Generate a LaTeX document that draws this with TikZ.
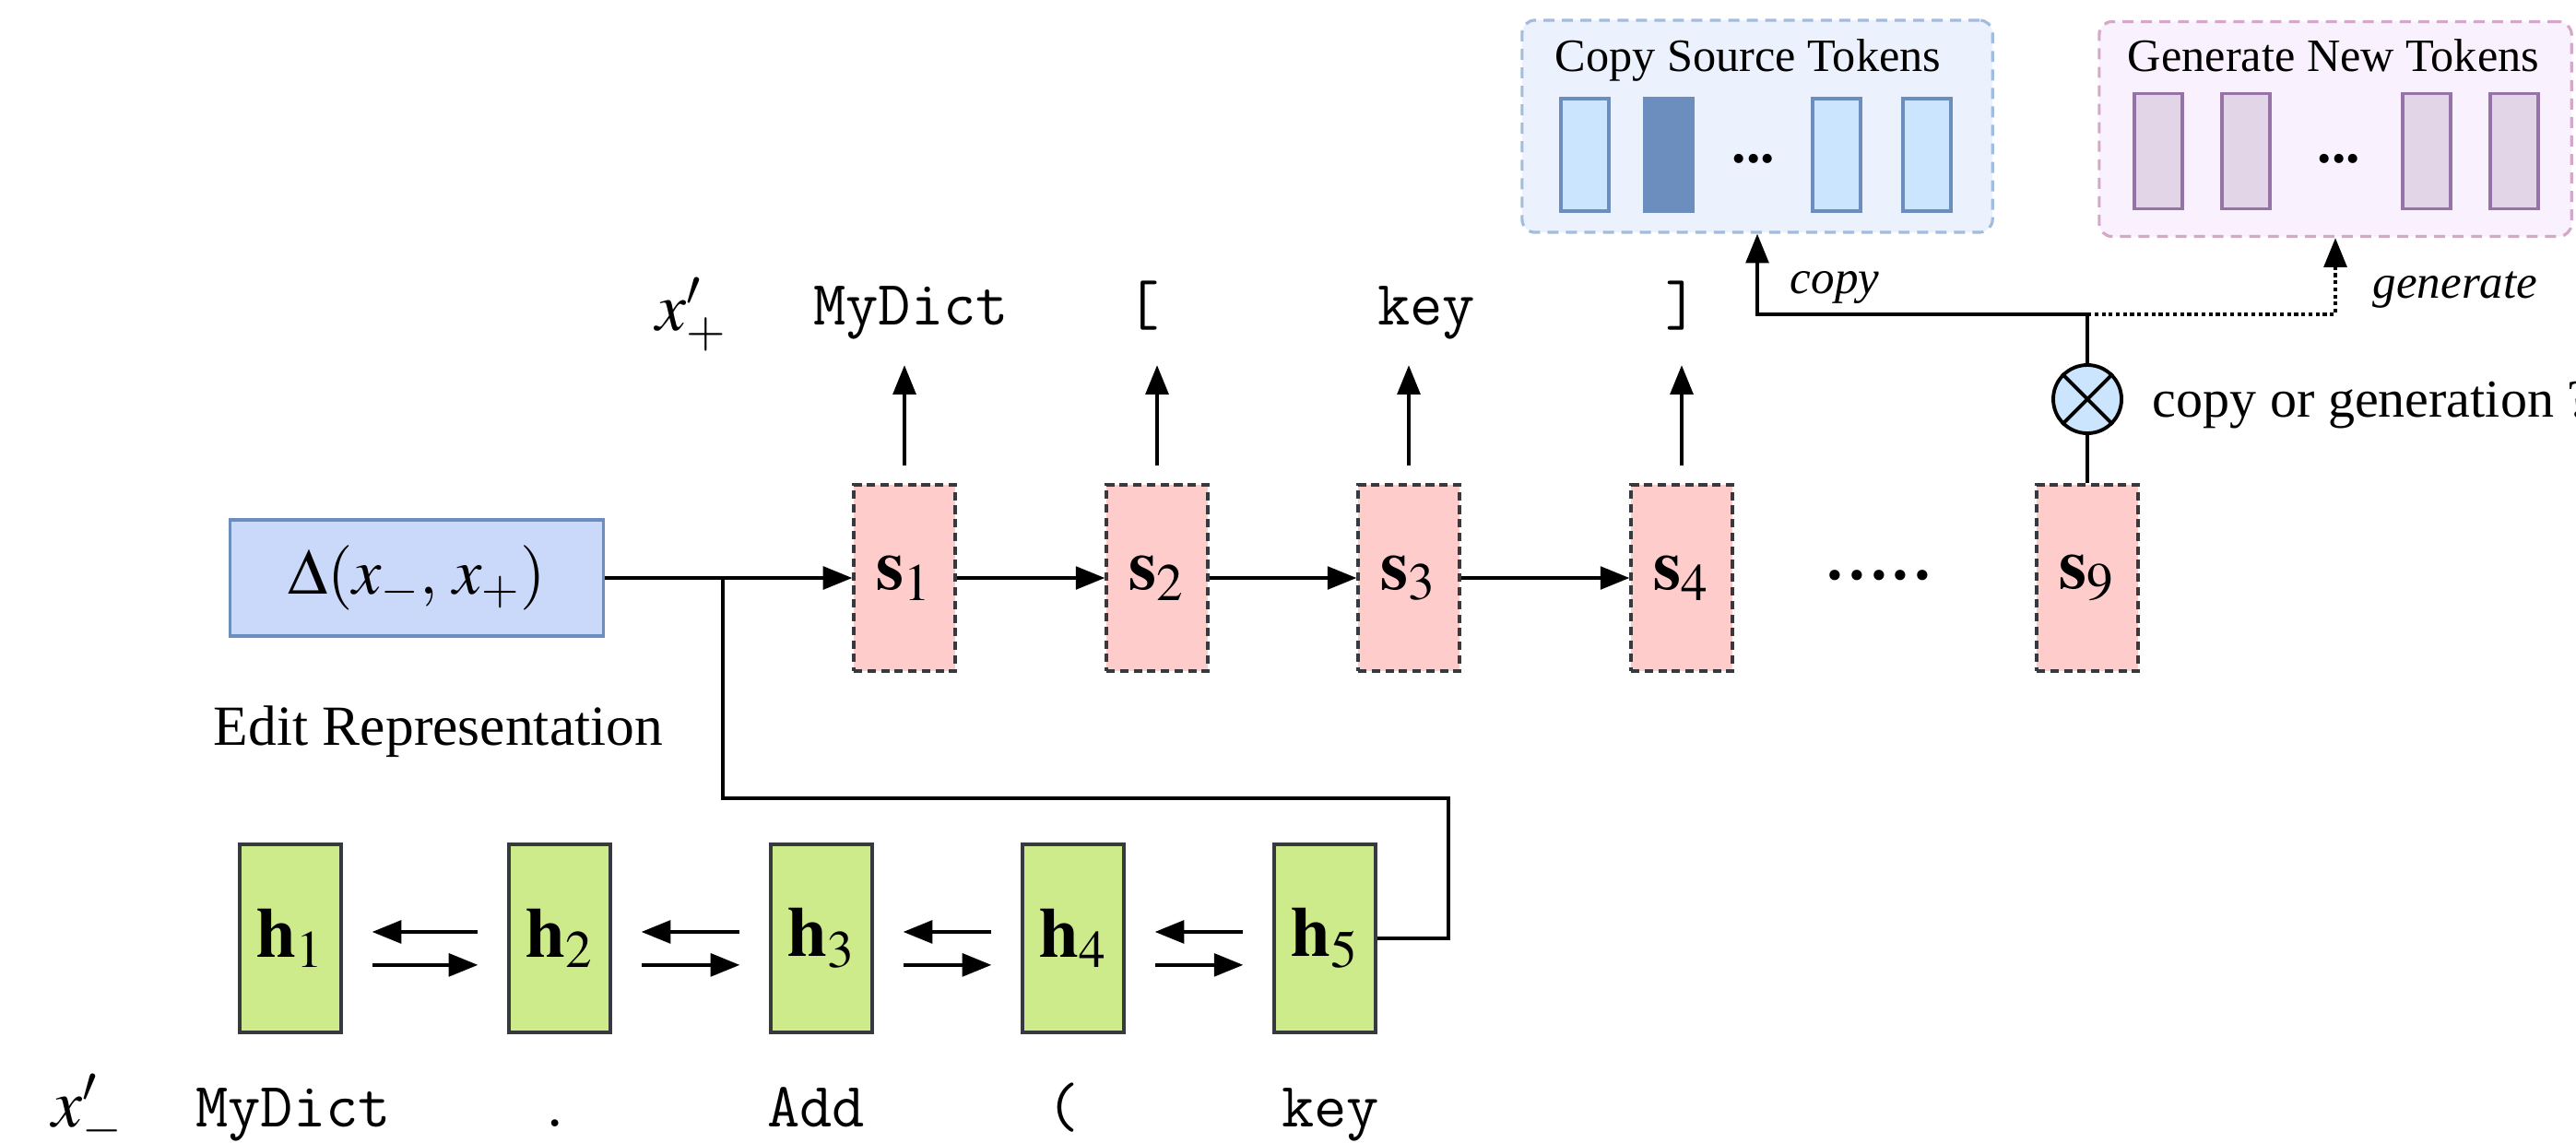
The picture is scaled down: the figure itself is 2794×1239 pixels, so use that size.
\documentclass[tikz,border=0pt]{standalone}
\usepackage{mathptmx}
\usepackage{fontspec}
\setmainfont{Liberation Serif}
\usetikzlibrary{arrows.meta,positioning}
\definecolor{editfill}{HTML}{CAD8FA}
\definecolor{editline}{HTML}{6C8EBF}
\definecolor{decfill}{HTML}{FFCCCC}
\definecolor{boxline}{HTML}{36393D}
\definecolor{encfill}{HTML}{CDEB8B}
\definecolor{mixfill}{HTML}{CCE5FF}
\definecolor{copyfill}{HTML}{EBF1FD}
\definecolor{copyline}{HTML}{A2BCDD}
\definecolor{cellfill}{HTML}{CCE5FF}
\definecolor{cellline}{HTML}{6C8EBF}
\definecolor{genfill}{HTML}{F9F1FD}
\definecolor{genline}{HTML}{D5A8C9}
\definecolor{gcellfill}{HTML}{E1D5E7}
\definecolor{gcellline}{HTML}{9673A6}
\tikzstyle{block} = [rectangle, minimum width=1.1cm, minimum height=2.02cm, inner sep=0pt, font=\fontsize{22}{26}\selectfont]
\tikzstyle{dec} = [block, draw=boxline, fill=decfill, line width=0.9pt, dash pattern=on 2.6pt off 1.6pt]
\tikzstyle{enc} = [block, draw=boxline, fill=encfill, line width=1.1pt, minimum height=2.04cm]
\tikzstyle{tok} = [anchor=base, inner sep=0pt, text height=12pt, text depth=4pt, font=\fontsize{19.5}{22}\selectfont\ttfamily]
\tikzstyle{cell} = [rectangle, draw=cellline, fill=cellfill, line width=1pt, minimum width=0.52cm, minimum height=1.22cm]
\tikzstyle{gcell} = [cell, draw=gcellline, fill=gcellfill, minimum height=1.25cm]
\tikzstyle{pool} = [rectangle, rounded corners=4pt, line width=0.9pt, dash pattern=on 3.4pt off 2.3pt]
\tikzstyle{back} = [->, shorten <=9pt, shorten >=9pt]
\tikzstyle{txt} = [inner sep=0pt]

\begin{document}
\begin{tikzpicture}[x=0.01cm, y=-0.01cm, >={Triangle[length=9pt,width=7pt]}, line width=1.1pt]
	\useasboundingbox (0,0) rectangle (2794,1239);

	% EDIT REPRESENTATION
	\node[draw=editline, fill=editfill, line width=0.9pt, minimum width=4.04cm, minimum height=1.26cm, font=\fontsize{20}{24}\selectfont] (delta) at (452,627) {$\Delta(x_-,\,x_+)$};
	\node[txt, anchor=base west, font=\fontsize{17.5}{21}\selectfont] (editlabel) at (230,808) {Edit Representation};

	% DECODER
	\node[dec] (s1) at (981,627) {$\mathbf{s}_1$};
	\node[dec] (s2) at (1255,627) {$\mathbf{s}_2$};
	\node[dec] (s3) at (1528,627) {$\mathbf{s}_3$};
	\node[dec] (s4) at (1824,627) {$\mathbf{s}_4$};
	\node[dec] (s9) at (2264,627) {$\mathbf{s}_9$};
	\node[txt, anchor=base, font=\fontsize{27}{30}\selectfont] (sdots) at (2038,628) {.....};

	\draw [->] (delta.east) -- (s1.west);
	\draw [->] (s1) -- (s2);
	\draw [->] (s2) -- (s3);
	\draw [->] (s3) -- (s4);

	% OUTPUT TOKENS
	\node[txt, anchor=base, font=\fontsize{21}{25}\selectfont] (xplus) at (750,358) {$x'_+$};
	\node[tok] (o1) at (988,352) {MyDict};
	\node[tok] (o2) at (1240,352) {[};
	\node[tok] (o3) at (1547,352) {key};
	\node[tok] (o4) at (1824,352) {]};

	\draw [->, shorten <=5.4pt, shorten >=8pt] (s1.north) -- (s1.north |- o1.south);
	\draw [->, shorten <=5.4pt, shorten >=8pt] (s2.north) -- (s2.north |- o2.south);
	\draw [->, shorten <=5.4pt, shorten >=8pt] (s3.north) -- (s3.north |- o3.south);
	\draw [->, shorten <=5.4pt, shorten >=8pt] (s4.north) -- (s4.north |- o4.south);

	% ENCODER
	\node[enc] (h1) at (315,1018) {$\mathbf{h}_1$};
	\node[enc] (h2) at (607,1018) {$\mathbf{h}_2$};
	\node[enc] (h3) at (891,1018) {$\mathbf{h}_3$};
	\node[enc] (h4) at (1164,1018) {$\mathbf{h}_4$};
	\node[enc] (h5) at (1437,1018) {$\mathbf{h}_5$};

	\draw [back] ([yshift=2pt]h2.west) -- ([yshift=2pt]h1.east);
	\draw [back] ([yshift=-8.2pt]h1.east) -- ([yshift=-8.2pt]h2.west);
	\draw [back] ([yshift=2pt]h3.west) -- ([yshift=2pt]h2.east);
	\draw [back] ([yshift=-8.2pt]h2.east) -- ([yshift=-8.2pt]h3.west);
	\draw [back] ([yshift=2pt]h4.west) -- ([yshift=2pt]h3.east);
	\draw [back] ([yshift=-8.2pt]h3.east) -- ([yshift=-8.2pt]h4.west);
	\draw [back] ([yshift=2pt]h5.west) -- ([yshift=2pt]h4.east);
	\draw [back] ([yshift=-8.2pt]h4.east) -- ([yshift=-8.2pt]h5.west);

	% INPUT TOKENS
	\node[txt, anchor=base, font=\fontsize{21}{25}\selectfont] (xminus) at (95,1222) {$x'_-$};
	\node[tok] (i1) at (318,1222) {MyDict};
	\node[tok] (i2) at (602,1222) {.};
	\node[tok] (i3) at (885,1222) {Add};
	\node[tok] (i4) at (1153,1222) {(};
	\node[tok] (i5) at (1443,1222) {key};

	% ENCODER TO DECODER
	\coordinate (join) at (784,627);
	\coordinate (turn) at (1571,866);
	\draw (h5.east) -| (turn) -| (join);

	% COPY SOURCE TOKENS
	\node[pool, draw=copyline, fill=copyfill, minimum width=5.1cm, minimum height=2.3cm] (copybox) at (1906,137) {};
	\node[txt, anchor=base, font=\fontsize{14.3}{17}\selectfont] (copytitle) at (1896,77) {Copy Source Tokens};
	\node[cell] (c1) at (1719,168) {};
	\node[cell, fill=cellline] (c2) at (1810,168) {};
	\node[txt, anchor=base, font=\fontsize{17.5}{20}\selectfont\bfseries] (cdots) at (1902,176) {...};
	\node[cell] (c3) at (1992,168) {};
	\node[cell] (c4) at (2090,168) {};

	% GENERATE NEW TOKENS
	\node[pool, draw=genline, fill=genfill, minimum width=5.12cm, minimum height=2.33cm] (genbox) at (2533,140) {};
	\node[txt, anchor=base, font=\fontsize{14.3}{17}\selectfont] (gentitle) at (2531,77) {Generate New Tokens};
	\node[gcell] (g1) at (2341,164) {};
	\node[gcell] (g2) at (2436,164) {};
	\node[txt, anchor=base, font=\fontsize{17.5}{20}\selectfont\bfseries] (gdots) at (2537,176) {...};
	\node[gcell] (g3) at (2632,164) {};
	\node[gcell] (g4) at (2727,164) {};

	% SWITCH
	\node[circle, draw=black, fill=mixfill, line width=1.1pt, minimum size=0.74cm, inner sep=0pt] (mix) at (2264,433) {};
	\draw (mix.45) -- (mix.225);
	\draw (mix.135) -- (mix.315);
	\node[txt, anchor=base west, font=\fontsize{16.5}{20}\selectfont] (choice) at (2333,452) {copy or generation ?};

	\coordinate (split) at (2264,341);
	\draw (s9.north) -- (mix.south);
	\draw (mix.north) -- (split);
	\draw [->] (split) -| (copybox.south);
	\draw [->, dash pattern=on 1.2pt off 1pt] (split) -| (genbox.south);
	\node[txt, anchor=base, font=\fontsize{14.5}{17}\selectfont\itshape] (copylabel) at (1990,318) {copy};
	\node[txt, anchor=base, font=\fontsize{14.5}{17}\selectfont\itshape] (genlabel) at (2663,323) {generate};

\end{tikzpicture}
\end{document}
